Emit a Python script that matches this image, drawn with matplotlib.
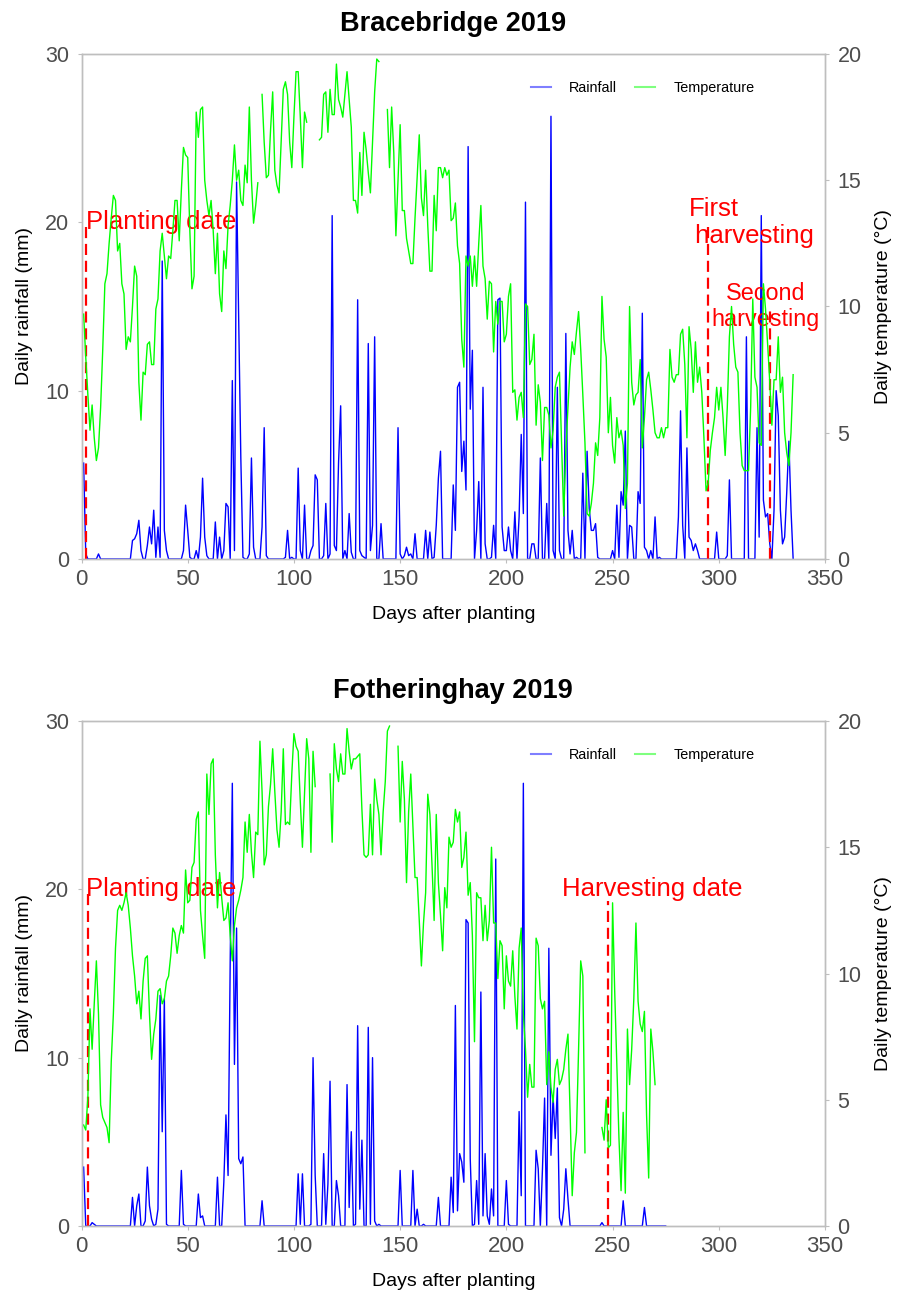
import numpy as np
import matplotlib
matplotlib.use('Agg')
import matplotlib.pyplot as plt
from matplotlib.lines import Line2D

plt.rcParams['font.family'] = ['Liberation Sans', 'DejaVu Sans']
nan = np.nan

# ---------------- Bracebridge 2019 ----------------
brace_temp = [
    9.7, 8.0, 6.5, 5.1, 6.1, 4.8, 3.9, 4.4, 6.0, 8.3,
    10.9, 11.3, 12.5, 13.5, 14.4, 14.2, 12.2, 12.5, 10.9, 10.5,
    8.3, 8.8, 8.6, 10.0, 11.6, 11.2, 7.0, 5.5, 7.4, 7.3,
    8.5, 8.6, 7.7, 7.7, 9.9, 10.3, 12.2, 12.9, 12.0, 11.1,
    12.0, 11.9, 13.0, 14.2, 14.2, 12.6, 14.6, 16.3, 16.0, 15.9,
    13.0, 10.7, 11.2, 17.7, 16.7, 17.8, 17.9, 15.0, 14.2, 13.6,
    14.2, 13.0, 11.3, 12.9, 10.5, 9.8, 12.2, 11.5, 13.2, 14.0,
    15.0, 16.4, 15.0, 15.4, 14.2, 14.0, 15.6, 14.9, 17.9, 15.0,
    13.3, 14.0, 14.9, nan, 18.4, 16.5, 15.1, 15.2, 17.0, 18.5,
    15.4, 14.8, 14.5, 16.5, 18.6, 18.9, 18.4, 16.5, 15.5, 17.5,
    19.3, 19.3, 17.5, 15.5, 17.7, 17.3, nan, nan, nan, nan,
    nan, 16.6, 16.7, 18.4, 18.5, 16.9, 18.6, 17.6, 17.6, 19.6,
    18.2, 17.9, 17.5, 18.4, 19.3, 18.2, 17.1, 14.2, 14.2, 13.7,
    16.1, 14.4, 16.9, 16.2, 15.3, 14.5, 16.5, 18.5, 19.8, 19.7,
    nan, nan, nan, 17.8, 15.5, 17.9, 16.1, 12.8, 15.0, 17.2,
    13.8, 13.8, 12.7, 12.2, 11.7, 11.7, 13.5, 15.1, 16.8, 14.3,
    13.6, 15.4, 13.2, 11.4, 11.4, 14.4, 13.0, 15.5, 15.5, 15.1,
    15.5, 15.2, 15.4, 13.4, 13.5, 14.1, 12.4, 11.7, 8.7, 7.6,
    12.0, 11.6, 12.0, 10.8, 12.0, 10.8, 12.5, 14.0, 11.6, 11.1,
    9.5, 11.0, 10.9, 8.2, 10.2, 9.3, 10.2, 10.2, 8.6, 8.9,
    10.4, 10.9, 6.6, 6.7, 5.5, 6.4, 6.6, 5.6, 10.1, 10.0,
    7.7, 7.9, 8.9, 5.3, 6.9, 6.2, 3.9, 6.0, 6.0, 5.7,
    4.4, 5.1, 6.8, 7.2, 7.4, 4.5, 1.7, 4.3, 6.0, 7.6,
    8.6, 8.1, 9.0, 9.8, 8.3, 6.5, 4.6, 1.8, 1.7, 2.2,
    3.0, 4.6, 4.1, 5.6, 10.4, 8.7, 8.0, 5.0, 6.4, 4.5,
    3.8, 5.6, 4.8, 5.1, 4.5, 2.0, 3.0, 10.0, 7.0, 6.1,
    6.5, 6.6, 7.9, 4.4, 5.6, 7.1, 7.4, 6.7, 5.9, 5.0,
    4.8, 4.8, 5.2, 4.8, 5.2, 5.2, 8.3, 7.2, 7.0, 7.3,
    7.3, 8.9, 9.1, 7.7, 4.8, 9.2, 8.3, 6.6, 8.6, 7.0,
    7.6, 6.6, 4.8, 2.7, 3.0, 4.3, 5.0, 5.6, 6.8, 5.9,
    6.8, 5.6, 4.1, 6.0, 8.8, 10.0, 8.5, 7.6, 7.4, 5.0,
    3.7, 3.5, 3.5, 3.5, 6.0, 10.3, 7.2, 6.8, 4.6, 4.5,
    10.9, 9.9, 8.5, 7.0, 5.3, 7.1, 7.1, 8.8, 6.6, 7.2,
    5.0, 4.2, 3.7, 5.0, 7.3,
]
brace_rain = [
    5.7, 0.3, 0, 0, 0, 0, 0, 0.3, 0, 0,
    0, 0, 0, 0, 0, 0, 0, 0, 0, 0,
    0, 0, 0, 1.1, 1.2, 1.5, 2.3, 0.5, 0, 0,
    0.8, 1.9, 0.9, 2.9, 0.1, 1.9, 0.1, 17.7, 1.7, 0.5,
    0, 0, 0, 0, 0, 0, 0, 0.5, 3.2, 1.7,
    0.1, 0, 0, 0.5, 0, 1.3, 4.8, 1.3, 0.2, 0,
    0, 0, 2.2, 0, 1.3, 0, 0.5, 3.3, 3.1, 0,
    10.6, 0.5, 22.4, 14.0, 6.0, 0.1, 0, 0, 0.3, 6.0,
    0.7, 0, 0, 0, 1.9, 7.8, 0.2, 0, 0, 0,
    0, 0, 0, 0, 0, 0.1, 1.7, 0, 0.1, 0,
    0, 5.4, 0.5, 0, 3.2, 0, 0, 0.5, 0.8, 5.0,
    4.7, 0, 0, 0.2, 3.3, 0, 0.3, 20.4, 0.8, 0.5,
    5.7, 9.1, 0, 0.5, 0, 2.7, 0.4, 0, 0, 15.4,
    0.5, 0.2, 0.1, 0, 12.8, 0.5, 2.0, 13.2, 0, 0,
    2.1, 0, 0, 0, 0, 0, 0, 0, 7.8, 0.3,
    0, 0.2, 0.7, 0.2, 0.3, 0, 1.5, 0, 0, 0,
    0, 1.7, 0, 1.6, 0, 0.1, 2.0, 4.8, 6.4, 0,
    0, 0, 0, 0, 4.4, 1.7, 10.2, 10.5, 5.2, 7.0,
    4.1, 24.5, 8.9, 12.4, 0, 1.7, 4.6, 0, 10.2, 0.9,
    0, 0, 0.1, 2.0, 0, 15.4, 15.5, 1.9, 0.5, 0.5,
    1.9, 0.5, 0, 2.8, 0, 2.5, 7.4, 2.7, 21.2, 0,
    0, 0.9, 0.9, 0, 0, 6.0, 0, 0, 3.3, 0,
    26.3, 0.5, 0, 10.2, 0.5, 0, 0, 13.4, 1.7, 0.3,
    1.7, 0, 0.1, 0, 0, 5.1, 0, 6.4, 3.0, 1.7,
    1.7, 2.1, 0.1, 0, 0, 0, 0, 0, 0, 0.5,
    0, 3.2, 0.1, 4.0, 3.2, 7.6, 0, 2.0, 1.9, 0,
    0, 4.0, 3.3, 14.6, 0.7, 0.5, 0, 0.5, 0, 2.5,
    0, 0.1, 0, 0, 0, 0, 0, 0, 0, 0,
    2.5, 8.8, 2.0, 0, 6.6, 1.3, 1.1, 0.5, 0.9, 0.5,
    0, 0, 0, 0, 0, 0, 0, 0, 1.6, 0,
    0, 0, 0, 0.2, 4.7, 0, 0, 0, 0, 0,
    0, 0, 13.2, 0, 0, 0, 0, 7.8, 1.3, 20.4,
    3.5, 2.5, 2.7, 0.9, 0, 2.9, 10.0, 8.5, 2.9, 0.9,
    1.3, 4.0, 7.0, 2.9, 0,
]
brace_days_temp = np.arange(1, len(brace_temp) + 1)
brace_days_rain = np.arange(1, len(brace_rain) + 1)

# ---------------- Fotheringhay 2019 ----------------
foth_temp = [
    4.0, 3.8, 5.1, 8.6, 7.0, 8.8, 10.5, 8.4, 4.8, 4.3,
    4.1, 3.9, 3.3, 6.5, 8.4, 11.0, 12.5, 12.7, 12.5, 12.8,
    13.2, 12.7, 11.8, 10.7, 9.9, 8.8, 9.3, 8.2, 9.7, 10.6,
    10.7, 8.4, 6.6, 7.6, 8.2, 9.3, 9.4, 8.8, 9.0, 9.7,
    9.9, 10.7, 11.8, 11.6, 10.8, 11.5, 11.9, 11.6, 14.1, 12.8,
    12.9, 14.2, 14.4, 16.1, 16.4, 12.5, 11.5, 10.6, 17.9, 16.3,
    18.3, 18.5, 14.7, 12.6, 14.0, 13.0, 12.1, 12.2, 12.8, 11.5,
    10.5, 11.9, 12.6, 12.9, 13.3, 13.8, 16.0, 14.8, 16.3, 14.8,
    13.8, 15.6, 15.5, 19.2, 17.2, 14.3, 14.7, 16.6, 17.5, 18.9,
    17.2, 15.7, 15.0, 16.4, 18.9, 15.9, 16.0, 15.9, 17.9, 19.5,
    19.0, 18.8, 16.8, 15.0, 17.1, 19.3, 18.5, 14.8, 18.8, 17.4,
    nan, nan, nan, nan, nan, nan, 17.9, 15.2, 19.1, 18.1,
    17.6, 18.7, 17.9, 17.9, 19.7, 18.8, 18.1, 18.5, 18.5, 18.6,
    18.7, 16.5, 14.7, 14.6, 14.7, 16.7, 14.7, 17.7, 16.9, 16.3,
    14.7, 16.4, 17.6, 19.6, 19.8, nan, nan, nan, 19.0, 16.0,
    18.4, 16.9, 13.6, 16.4, 17.9, 15.9, 13.8, 13.8, 12.1, 10.3,
    12.0, 13.2, 17.1, 16.3, 14.3, 12.1, 16.3, 13.6, 12.3, 10.9,
    13.4, 12.6, 15.4, 15.0, 15.2, 16.5, 16.0, 16.4, 14.2, 14.6,
    15.6, 13.1, 13.6, 11.5, 7.3, 13.2, 13.0, 13.0, 11.3, 12.7,
    11.3, 12.1, 15.0, 12.0, 12.0, 9.8, 11.3, 11.1, 8.6, 10.7,
    9.7, 9.5, 10.9, 9.1, 7.8, 11.0, 11.8, 8.4, 7.0, 5.1,
    6.4, 5.5, 5.5, 11.4, 11.1, 9.0, 8.6, 8.9, 5.6, 6.9,
    5.5, 4.9, 6.2, 6.6, 5.6, 5.8, 6.2, 7.0, 7.6, 4.5,
    1.2, 2.9, 3.7, 7.0, 10.5, 9.9, 2.9, nan, nan, nan,
    nan, nan, nan, nan, 3.9, 3.4, 5.0, 3.1, 3.2, 12.8,
    9.3, 6.4, 3.5, 1.4, 4.5, 1.3, 7.8, 5.6, 7.0, 9.0,
    12.0, 8.9, 8.0, 7.7, 8.5, 4.4, 1.9, 7.8, 6.9, 5.6,
]
foth_rain = [
    3.5, 0, 0, 0, 0.2, 0.1, 0, 0, 0, 0,
    0, 0, 0, 0, 0, 0, 0, 0, 0, 0,
    0, 0, 0, 1.7, 0, 1.2, 1.9, 0, 0, 0.3,
    3.5, 1.2, 0.4, 0, 0.1, 1.0, 13.7, 5.6, 13.5, 0.1,
    0, 0, 0, 0, 0, 0, 3.3, 0.1, 0, 0,
    0, 0, 0, 0, 1.9, 0.5, 0.6, 0, 0, 0,
    0, 0, 0, 2.9, 0, 0, 2.6, 6.6, 3.0, 15.7,
    26.3, 9.6, 17.7, 4.0, 3.7, 4.1, 0, 0, 0, 0,
    0, 0, 0, 0, 1.5, 0, 0, 0, 0, 0,
    0, 0, 0, 0, 0, 0, 0, 0, 0, 0,
    0, 3.1, 0.1, 3.1, 0, 0, 0, 0.1, 10.0, 3.0,
    0, 0, 0, 4.3, 0.1, 2.5, 8.6, 0, 0, 2.7,
    1.8, 0, 0, 0, 8.4, 1.1, 5.6, 0, 0.1, 11.9,
    1.0, 5.1, 0, 0, 11.8, 0.1, 10.0, 0.3, 0, 0.1,
    0, 0, 0, 0, 0, 0, 0, 0, 0, 3.3,
    0, 0, 0, 0, 0, 3.3, 0, 1.0, 0, 0,
    0.1, 0, 0, 0, 0, 0, 0, 1.7, 0, 0,
    0, 0, 0, 2.9, 0.8, 13.1, 0.9, 4.3, 3.8, 2.6,
    18.2, 18.0, 4.0, 0, 0.1, 2.7, 0.1, 13.9, 0.6, 4.3,
    0.6, 0.1, 2.2, 0.6, 21.8, 0, 0, 0, 0, 2.7,
    0.1, 0, 0, 0, 0, 6.8, 1.8, 26.3, 0, 0,
    0, 0, 0, 4.5, 3.4, 0, 3.4, 7.6, 0, 16.5,
    4.2, 7.7, 5.2, 8.2, 0.5, 0, 1.0, 3.4, 1.6, 0,
    0, 0, 0, 0, 0, 0, 0, 0, 0, 0,
    0, 0, 0, 0, 0.2, 0, 0, 0, 0, 0,
    0, 0, 0, 0, 1.5, 0, 0, 0, 0, 0,
    0, 0, 0, 0, 1.1, 0, 0, 0, 0, 0,
    0, 0, 0, 0, 0,
]
foth_days_temp = np.arange(1, len(foth_temp) + 1)
foth_days_rain = np.arange(1, len(foth_rain) + 1)

# events: (day, line top in mm, label, text x (day), text y (mm), ha, fontsize)
brace_events = [
    (2, 20.0, 'Planting date', 2, 20.0, 'left', 18.5),
    (295, 20.0, 'First\n harvesting', 285.7, 20.0, 'left', 18.5),
    (324, 15.0, 'Second\nharvesting', 322, 15.0, 'center', 16.8),
]
foth_events = [
    (3, 20.0, 'Planting date', 2, 20.0, 'left', 18.5),
    (248, 19.3, 'Harvesting date', 226, 20.0, 'left', 18.5),
]

x_ticks = [0, 50, 100, 150, 200, 250, 300, 350]
rain_ticks = [0, 10, 20, 30]
temp_ticks = [0, 5, 10, 15, 20]

W, H = 901, 1298
fig = plt.figure(figsize=(W / 100, H / 100), dpi=100)

GRAY = '#BEBEBE'
TXT = '#4D4D4D'
BLUE = '#0000FF'
GREEN = '#00FF00'
RED = '#FF0000'
LEFT, RIGHT = 81.5, 825.0


def panel(top_px, bot_px, title, d_rain, rain, d_temp, temp, events):
    ax = fig.add_axes([LEFT / W, 1 - bot_px / H, (RIGHT - LEFT) / W, (bot_px - top_px) / H])
    ax2 = ax.twinx()
    ax.plot(d_rain, rain, color=BLUE, lw=1.0)
    ax2.plot(d_temp, temp, color=GREEN, lw=1.0)
    for day, top, label, tx, ty, ha, fs in events:
        ax.plot([day, day], [0, top], color=RED, lw=1.6, ls=(0, (5, 2.6)))
        ax.text(tx, ty, label, color=RED, fontsize=fs, ha=ha, va='center',
                multialignment='left' if ha == 'left' else 'center', linespacing=1.15)
    ax.set_xlim(0, 350)
    ax.set_ylim(0, 30)
    ax2.set_ylim(0, 20)
    ax.set_xticks(x_ticks)
    ax.set_yticks(rain_ticks)
    ax2.set_yticks(temp_ticks)
    for a in (ax, ax2):
        for s in a.spines.values():
            s.set_color(GRAY)
            s.set_linewidth(1.0)
    ax.tick_params(axis='x', colors=GRAY, labelcolor=TXT, labelsize=16, length=3, pad=4)
    ax.tick_params(axis='y', colors=GRAY, labelcolor=TXT, labelsize=15.5, length=3, pad=6)
    ax2.tick_params(axis='y', colors=GRAY, labelcolor=TXT, labelsize=15.5, length=3, pad=6)
    ax.set_xlabel('Days after planting', fontsize=14, color='black')
    ax.set_ylabel('Daily rainfall (mm)', fontsize=14, color='black')
    ax2.set_ylabel('Daily temperature (°C)', fontsize=14, color='black')
    h = bot_px - top_px
    ax.xaxis.set_label_coords(0.5, -(615 - 559) / h)
    ax.xaxis.label.set_va('center')
    ax.yaxis.set_label_coords((25 - LEFT) / (RIGHT - LEFT), 0.5)
    ax.yaxis.label.set_va('center')
    ax2.yaxis.set_label_coords((884 - LEFT) / (RIGHT - LEFT), 0.5)
    ax2.yaxis.label.set_va('center')
    handles = [Line2D([], [], color=BLUE, alpha=0.5, lw=1.5),
               Line2D([], [], color=GREEN, alpha=0.5, lw=1.5)]
    ax2.legend(handles, ['Rainfall', 'Temperature'], ncol=2, frameon=False,
               fontsize=10.4, handlelength=1.4, handletextpad=1.25,
               columnspacing=1.25, borderpad=0, borderaxespad=0,
               loc='center', bbox_to_anchor=(642.5 / W, 1 - (top_px + 34) / H),
               bbox_transform=fig.transFigure)
    fig.text((LEFT + RIGHT) / 2 / W, 1 - (top_px - 23) / H, title, ha='center',
             va='baseline', fontsize=19.5, fontweight='bold')
    return ax, ax2


panel(54, 559, 'Bracebridge 2019', brace_days_rain, brace_rain,
      brace_days_temp, brace_temp, brace_events)
panel(721, 1226, 'Fotheringhay 2019', foth_days_rain, foth_rain,
      foth_days_temp, foth_temp, foth_events)

fig.savefig('out.png', dpi=100)
